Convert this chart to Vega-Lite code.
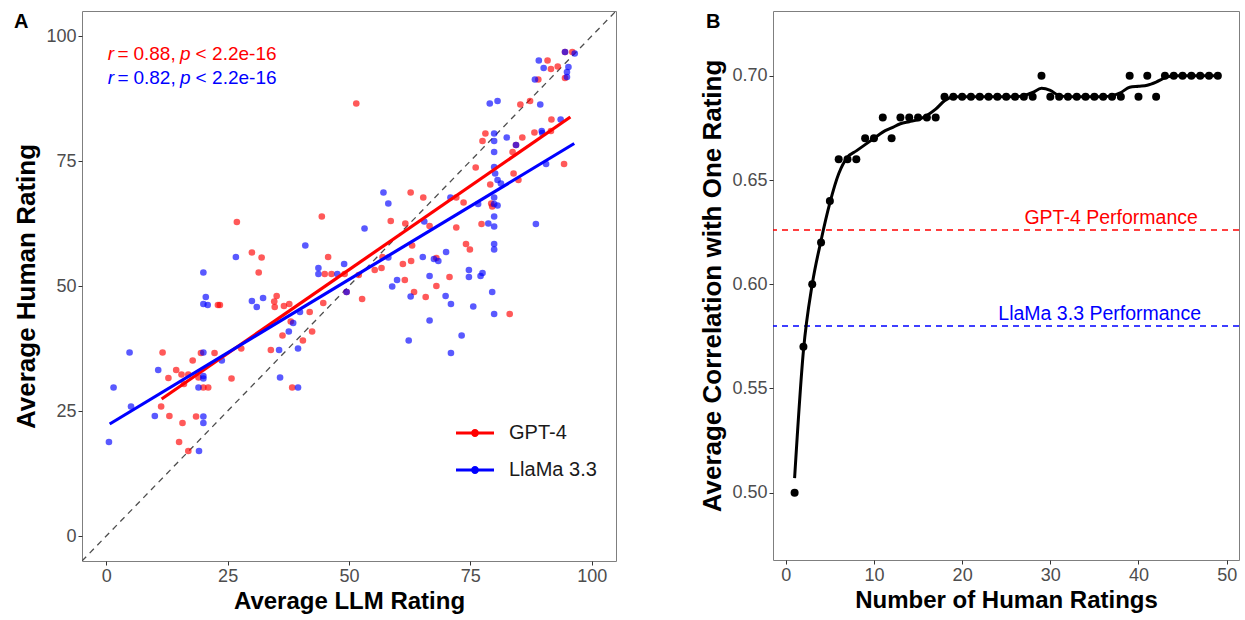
{
  "$schema": "https://vega.github.io/schema/vega-lite/v6.json",
  "background": "white",
  "padding": {"left": 13, "top": 10, "right": 0, "bottom": 0},
  "config": {
    "font": "Liberation Sans",
    "view": {"stroke": "#7f7f7f", "strokeWidth": 1},
    "axis": {"grid": false, "domain": false, "tickColor": "#333333", "tickSize": 4, "labelColor": "#4d4d4d", "labelFontSize": 18, "labelPadding": 2, "titleFontWeight": "bold", "titleColor": "#000000"},
    "title": {"fontSize": 20, "fontWeight": "bold", "color": "#000000", "anchor": "start", "frame": "bounds", "baseline": "top", "offset": -2}
  },
  "spacing": 82,
  "resolve": {"scale": {"color": "independent"}, "legend": {"color": "independent"}},
  "hconcat": [
    {
      "width": 534,
      "height": 550,
      "title": {"text": "A", "dy": 19},
      "layer": [
        {
          "data": {"values": [{"x": -5, "y": -5}, {"x": 105, "y": 105}]},
          "mark": {"type": "line", "color": "#4d4d4d", "strokeWidth": 1.3, "strokeDash": [6, 5], "clip": true},
          "encoding": {
            "x": {"field": "x", "type": "quantitative", "scale": {"domain": [-5, 105], "nice": false, "zero": false},
                  "axis": {"values": [0, 25, 50, 75, 100], "title": "Average LLM Rating", "titleFontSize": 24, "titlePadding": 4}},
            "y": {"field": "y", "type": "quantitative", "scale": {"domain": [-5, 105], "nice": false, "zero": false},
                  "axis": {"values": [0, 25, 50, 75, 100], "title": "Average Human Rating", "titleFontSize": 26, "titlePadding": 6}}
          }
        },
        {
          "data": {"values": [
            {"m": "GPT-4", "x": 26.9, "y": 62.8}, {"m": "GPT-4", "x": 44.4, "y": 63.9}, {"m": "GPT-4", "x": 30.0, "y": 56.7}, {"m": "GPT-4", "x": 32.0, "y": 55.7},
            {"m": "GPT-4", "x": 45.7, "y": 55.8}, {"m": "GPT-4", "x": 31.4, "y": 52.7}, {"m": "GPT-4", "x": 45.0, "y": 52.4}, {"m": "GPT-4", "x": 46.4, "y": 52.4},
            {"m": "GPT-4", "x": 49.1, "y": 52.4}, {"m": "GPT-4", "x": 23.0, "y": 46.2}, {"m": "GPT-4", "x": 23.4, "y": 46.2}, {"m": "GPT-4", "x": 35.1, "y": 48.0},
            {"m": "GPT-4", "x": 34.6, "y": 46.9}, {"m": "GPT-4", "x": 34.7, "y": 45.8}, {"m": "GPT-4", "x": 36.6, "y": 46.0}, {"m": "GPT-4", "x": 37.7, "y": 46.4},
            {"m": "GPT-4", "x": 38.0, "y": 42.9}, {"m": "GPT-4", "x": 41.9, "y": 44.8}, {"m": "GPT-4", "x": 36.3, "y": 40.1}, {"m": "GPT-4", "x": 42.4, "y": 40.9},
            {"m": "GPT-4", "x": 40.5, "y": 39.1}, {"m": "GPT-4", "x": 33.9, "y": 37.2}, {"m": "GPT-4", "x": 27.8, "y": 37.5}, {"m": "GPT-4", "x": 22.3, "y": 36.6},
            {"m": "GPT-4", "x": 19.5, "y": 36.6}, {"m": "GPT-4", "x": 11.6, "y": 36.7}, {"m": "GPT-4", "x": 17.8, "y": 35.1}, {"m": "GPT-4", "x": 14.4, "y": 33.2},
            {"m": "GPT-4", "x": 15.5, "y": 32.3}, {"m": "GPT-4", "x": 12.8, "y": 31.6}, {"m": "GPT-4", "x": 16.0, "y": 30.4}, {"m": "GPT-4", "x": 20.0, "y": 29.7},
            {"m": "GPT-4", "x": 21.0, "y": 29.7}, {"m": "GPT-4", "x": 25.8, "y": 31.5}, {"m": "GPT-4", "x": 38.3, "y": 29.7}, {"m": "GPT-4", "x": 11.3, "y": 25.9},
            {"m": "GPT-4", "x": 13.0, "y": 24.0}, {"m": "GPT-4", "x": 18.5, "y": 23.9}, {"m": "GPT-4", "x": 15.7, "y": 22.6}, {"m": "GPT-4", "x": 15.0, "y": 18.8},
            {"m": "GPT-4", "x": 16.9, "y": 17.0}, {"m": "GPT-4", "x": 44.7, "y": 46.6}, {"m": "GPT-4", "x": 49.5, "y": 48.8}, {"m": "GPT-4", "x": 52.7, "y": 47.4},
            {"m": "GPT-4", "x": 61.5, "y": 51.2}, {"m": "GPT-4", "x": 63.4, "y": 48.8}, {"m": "GPT-4", "x": 65.8, "y": 47.8}, {"m": "GPT-4", "x": 68.0, "y": 50.0},
            {"m": "GPT-4", "x": 70.7, "y": 51.8}, {"m": "GPT-4", "x": 83.1, "y": 44.4}, {"m": "GPT-4", "x": 51.5, "y": 86.5}, {"m": "GPT-4", "x": 85.3, "y": 86.3},
            {"m": "GPT-4", "x": 87.3, "y": 87.0}, {"m": "GPT-4", "x": 90.9, "y": 95.1}, {"m": "GPT-4", "x": 91.6, "y": 93.4}, {"m": "GPT-4", "x": 93.0, "y": 93.9},
            {"m": "GPT-4", "x": 89.0, "y": 91.3}, {"m": "GPT-4", "x": 94.5, "y": 96.8}, {"m": "GPT-4", "x": 96.0, "y": 96.8}, {"m": "GPT-4", "x": 94.5, "y": 91.6},
            {"m": "GPT-4", "x": 91.7, "y": 83.3}, {"m": "GPT-4", "x": 88.2, "y": 80.7}, {"m": "GPT-4", "x": 91.6, "y": 81.0}, {"m": "GPT-4", "x": 85.7, "y": 79.7},
            {"m": "GPT-4", "x": 83.7, "y": 76.8}, {"m": "GPT-4", "x": 84.4, "y": 78.2}, {"m": "GPT-4", "x": 78.1, "y": 80.5}, {"m": "GPT-4", "x": 77.5, "y": 79.0},
            {"m": "GPT-4", "x": 76.1, "y": 73.7}, {"m": "GPT-4", "x": 79.1, "y": 70.3}, {"m": "GPT-4", "x": 83.9, "y": 72.5}, {"m": "GPT-4", "x": 84.9, "y": 71.2},
            {"m": "GPT-4", "x": 94.3, "y": 74.4}, {"m": "GPT-4", "x": 79.3, "y": 66.5}, {"m": "GPT-4", "x": 79.5, "y": 65.9}, {"m": "GPT-4", "x": 77.3, "y": 62.4},
            {"m": "GPT-4", "x": 72.1, "y": 61.7}, {"m": "GPT-4", "x": 72.1, "y": 67.7}, {"m": "GPT-4", "x": 73.6, "y": 66.7}, {"m": "GPT-4", "x": 65.3, "y": 67.7},
            {"m": "GPT-4", "x": 62.7, "y": 68.7}, {"m": "GPT-4", "x": 58.6, "y": 63.0}, {"m": "GPT-4", "x": 61.6, "y": 62.5}, {"m": "GPT-4", "x": 66.6, "y": 62.0},
            {"m": "GPT-4", "x": 63.0, "y": 58.1}, {"m": "GPT-4", "x": 74.1, "y": 58.4}, {"m": "GPT-4", "x": 74.9, "y": 57.3}, {"m": "GPT-4", "x": 68.0, "y": 55.6},
            {"m": "GPT-4", "x": 62.8, "y": 55.0}, {"m": "GPT-4", "x": 61.1, "y": 54.4}, {"m": "GPT-4", "x": 56.9, "y": 55.8}, {"m": "GPT-4", "x": 55.3, "y": 53.2},
            {"m": "GPT-4", "x": 56.7, "y": 53.6}, {"m": "GPT-4", "x": 52.0, "y": 52.2}, {"m": "GPT-4", "x": 19.0, "y": 31.7}, {"m": "GPT-4", "x": 16.9, "y": 32.3},
            {"m": "LlaMa 3.3", "x": 41.0, "y": 58.1}, {"m": "LlaMa 3.3", "x": 26.7, "y": 55.8}, {"m": "LlaMa 3.3", "x": 49.0, "y": 54.4}, {"m": "LlaMa 3.3", "x": 20.0, "y": 52.7},
            {"m": "LlaMa 3.3", "x": 43.7, "y": 53.6}, {"m": "LlaMa 3.3", "x": 43.7, "y": 52.4}, {"m": "LlaMa 3.3", "x": 47.6, "y": 52.4}, {"m": "LlaMa 3.3", "x": 20.5, "y": 47.8},
            {"m": "LlaMa 3.3", "x": 20.0, "y": 46.4}, {"m": "LlaMa 3.3", "x": 20.9, "y": 46.2}, {"m": "LlaMa 3.3", "x": 30.0, "y": 47.0}, {"m": "LlaMa 3.3", "x": 32.3, "y": 47.6},
            {"m": "LlaMa 3.3", "x": 31.0, "y": 45.8}, {"m": "LlaMa 3.3", "x": 39.9, "y": 44.8}, {"m": "LlaMa 3.3", "x": 37.6, "y": 40.9}, {"m": "LlaMa 3.3", "x": 39.5, "y": 37.5},
            {"m": "LlaMa 3.3", "x": 35.6, "y": 37.2}, {"m": "LlaMa 3.3", "x": 23.8, "y": 35.1}, {"m": "LlaMa 3.3", "x": 20.0, "y": 36.7}, {"m": "LlaMa 3.3", "x": 4.8, "y": 36.7},
            {"m": "LlaMa 3.3", "x": 10.7, "y": 33.2}, {"m": "LlaMa 3.3", "x": 20.0, "y": 32.0}, {"m": "LlaMa 3.3", "x": 20.0, "y": 31.5}, {"m": "LlaMa 3.3", "x": 19.0, "y": 29.7},
            {"m": "LlaMa 3.3", "x": 35.8, "y": 31.7}, {"m": "LlaMa 3.3", "x": 39.5, "y": 29.7}, {"m": "LlaMa 3.3", "x": 1.5, "y": 29.7}, {"m": "LlaMa 3.3", "x": 5.1, "y": 25.9},
            {"m": "LlaMa 3.3", "x": 10.0, "y": 24.0}, {"m": "LlaMa 3.3", "x": 20.0, "y": 23.9}, {"m": "LlaMa 3.3", "x": 20.0, "y": 22.6}, {"m": "LlaMa 3.3", "x": 19.1, "y": 17.0},
            {"m": "LlaMa 3.3", "x": 0.55, "y": 18.8}, {"m": "LlaMa 3.3", "x": 49.5, "y": 48.8}, {"m": "LlaMa 3.3", "x": 38.5, "y": 42.6}, {"m": "LlaMa 3.3", "x": 58.9, "y": 49.9},
            {"m": "LlaMa 3.3", "x": 59.9, "y": 51.2}, {"m": "LlaMa 3.3", "x": 62.7, "y": 47.9}, {"m": "LlaMa 3.3", "x": 66.6, "y": 52.0}, {"m": "LlaMa 3.3", "x": 66.6, "y": 43.1},
            {"m": "LlaMa 3.3", "x": 69.9, "y": 48.0}, {"m": "LlaMa 3.3", "x": 71.0, "y": 46.4}, {"m": "LlaMa 3.3", "x": 74.7, "y": 51.8}, {"m": "LlaMa 3.3", "x": 77.1, "y": 52.0},
            {"m": "LlaMa 3.3", "x": 77.5, "y": 52.6}, {"m": "LlaMa 3.3", "x": 75.6, "y": 45.9}, {"m": "LlaMa 3.3", "x": 79.5, "y": 48.8}, {"m": "LlaMa 3.3", "x": 79.9, "y": 44.4},
            {"m": "LlaMa 3.3", "x": 73.2, "y": 40.1}, {"m": "LlaMa 3.3", "x": 62.3, "y": 39.1}, {"m": "LlaMa 3.3", "x": 71.0, "y": 36.6}, {"m": "LlaMa 3.3", "x": 79.0, "y": 86.5},
            {"m": "LlaMa 3.3", "x": 80.6, "y": 87.0}, {"m": "LlaMa 3.3", "x": 89.4, "y": 86.3}, {"m": "LlaMa 3.3", "x": 89.1, "y": 95.1}, {"m": "LlaMa 3.3", "x": 90.1, "y": 93.6},
            {"m": "LlaMa 3.3", "x": 88.3, "y": 91.3}, {"m": "LlaMa 3.3", "x": 94.5, "y": 96.8}, {"m": "LlaMa 3.3", "x": 96.5, "y": 96.5}, {"m": "LlaMa 3.3", "x": 95.2, "y": 93.8},
            {"m": "LlaMa 3.3", "x": 94.9, "y": 92.8}, {"m": "LlaMa 3.3", "x": 94.9, "y": 91.8}, {"m": "LlaMa 3.3", "x": 93.6, "y": 83.3}, {"m": "LlaMa 3.3", "x": 89.7, "y": 81.0},
            {"m": "LlaMa 3.3", "x": 89.8, "y": 80.6}, {"m": "LlaMa 3.3", "x": 84.4, "y": 78.2}, {"m": "LlaMa 3.3", "x": 82.5, "y": 79.7}, {"m": "LlaMa 3.3", "x": 79.9, "y": 80.5},
            {"m": "LlaMa 3.3", "x": 79.9, "y": 79.0}, {"m": "LlaMa 3.3", "x": 79.9, "y": 76.8}, {"m": "LlaMa 3.3", "x": 79.9, "y": 73.8}, {"m": "LlaMa 3.3", "x": 80.1, "y": 72.5},
            {"m": "LlaMa 3.3", "x": 80.6, "y": 71.2}, {"m": "LlaMa 3.3", "x": 81.3, "y": 70.5}, {"m": "LlaMa 3.3", "x": 90.6, "y": 74.4}, {"m": "LlaMa 3.3", "x": 79.9, "y": 67.7},
            {"m": "LlaMa 3.3", "x": 79.9, "y": 66.4}, {"m": "LlaMa 3.3", "x": 80.6, "y": 66.1}, {"m": "LlaMa 3.3", "x": 79.9, "y": 63.9}, {"m": "LlaMa 3.3", "x": 79.9, "y": 61.9},
            {"m": "LlaMa 3.3", "x": 78.7, "y": 62.5}, {"m": "LlaMa 3.3", "x": 88.5, "y": 62.4}, {"m": "LlaMa 3.3", "x": 76.6, "y": 66.4}, {"m": "LlaMa 3.3", "x": 70.9, "y": 67.7},
            {"m": "LlaMa 3.3", "x": 57.1, "y": 68.7}, {"m": "LlaMa 3.3", "x": 58.1, "y": 66.5}, {"m": "LlaMa 3.3", "x": 65.5, "y": 62.9}, {"m": "LlaMa 3.3", "x": 53.2, "y": 61.5},
            {"m": "LlaMa 3.3", "x": 79.9, "y": 58.4}, {"m": "LlaMa 3.3", "x": 79.9, "y": 57.3}, {"m": "LlaMa 3.3", "x": 70.0, "y": 56.8}, {"m": "LlaMa 3.3", "x": 65.2, "y": 55.8},
            {"m": "LlaMa 3.3", "x": 67.5, "y": 55.4}, {"m": "LlaMa 3.3", "x": 68.4, "y": 55.0}, {"m": "LlaMa 3.3", "x": 58.1, "y": 55.7}, {"m": "LlaMa 3.3", "x": 74.7, "y": 53.2}
          ]},
          "mark": {"type": "circle", "size": 44, "opacity": 0.65},
          "encoding": {
            "x": {"field": "x", "type": "quantitative"},
            "y": {"field": "y", "type": "quantitative"},
            "color": {"field": "m", "type": "nominal", "sort": null,
                      "scale": {"domain": ["GPT-4", "LlaMa 3.3"], "range": ["#ff0000", "#0000ff"]},
                      "legend": {"title": null, "orient": "none", "legendX": 374, "legendY": 403,
                                 "symbolType": "M -1 -0.08 L 1 -0.08 L 1 0.08 L -1 0.08 Z M 0.21 0 A 0.21 0.21 0 1 1 -0.21 0 A 0.21 0.21 0 1 1 0.21 0 Z",
                                 "symbolSize": 1444, "symbolOpacity": 1, "symbolStrokeWidth": 0,
                                 "labelFontSize": 20, "labelColor": "#1a1a1a", "labelOffset": 15, "rowPadding": 8, "padding": 0}}
          }
        },
        {
          "data": {"values": [
            {"m": "GPT-4", "x": 11.4, "y": 27.4}, {"m": "GPT-4", "x": 95.6, "y": 83.8},
            {"m": "LlaMa 3.3", "x": 0.7, "y": 22.4}, {"m": "LlaMa 3.3", "x": 96.4, "y": 78.5}
          ]},
          "mark": {"type": "line", "strokeWidth": 3.2},
          "encoding": {
            "x": {"field": "x", "type": "quantitative"},
            "y": {"field": "y", "type": "quantitative"},
            "color": {"field": "m", "type": "nominal", "legend": null}
          }
        },
        {
          "data": {"values": [
            {"m": "GPT-4", "x": 0.3, "y": 96.4, "t": "r"}, {"m": "GPT-4", "x": 15.2, "y": 96.4, "t": "p"},
            {"m": "LlaMa 3.3", "x": 0.3, "y": 91.6, "t": "r"}, {"m": "LlaMa 3.3", "x": 15.2, "y": 91.6, "t": "p"}
          ]},
          "mark": {"type": "text", "align": "left", "baseline": "middle", "fontSize": 19, "fontStyle": "italic"},
          "encoding": {
            "x": {"field": "x", "type": "quantitative"},
            "y": {"field": "y", "type": "quantitative"},
            "text": {"field": "t"},
            "color": {"field": "m", "type": "nominal", "legend": null}
          }
        },
        {
          "data": {"values": [
            {"m": "GPT-4", "x": 2.3, "y": 96.4, "t": "="}, {"m": "GPT-4", "x": 5.6, "y": 96.4, "t": "0.88,"},
            {"m": "GPT-4", "x": 18.4, "y": 96.4, "t": "<"}, {"m": "GPT-4", "x": 21.8, "y": 96.4, "t": "2.2e-16"},
            {"m": "LlaMa 3.3", "x": 2.3, "y": 91.6, "t": "="}, {"m": "LlaMa 3.3", "x": 5.6, "y": 91.6, "t": "0.82,"},
            {"m": "LlaMa 3.3", "x": 18.4, "y": 91.6, "t": "<"}, {"m": "LlaMa 3.3", "x": 21.8, "y": 91.6, "t": "2.2e-16"}
          ]},
          "mark": {"type": "text", "align": "left", "baseline": "middle", "fontSize": 19},
          "encoding": {
            "x": {"field": "x", "type": "quantitative"},
            "y": {"field": "y", "type": "quantitative"},
            "text": {"field": "t"},
            "color": {"field": "m", "type": "nominal", "legend": null}
          }
        }
      ]
    },
    {
      "width": 466,
      "height": 549,
      "title": {"text": "B", "dx": 6, "dy": 19},
      "layer": [
        {
          "data": {"values": [{"m": "GPT-4", "v": 0.626}, {"m": "LlaMa 3.3", "v": 0.58}]},
          "mark": {"type": "rule", "strokeWidth": 1.5, "strokeDash": [6, 5]},
          "encoding": {
            "y": {"field": "v", "type": "quantitative", "scale": {"domain": [0.4677, 0.7311], "nice": false, "zero": false},
                  "axis": {"values": [0.5, 0.55, 0.6, 0.65, 0.7], "format": ".2f", "title": "Average Correlation with One Rating", "titleFontSize": 26, "titlePadding": 6}},
            "color": {"field": "m", "type": "nominal", "scale": {"domain": ["GPT-4", "LlaMa 3.3"], "range": ["#ff0000", "#0000ff"]}, "legend": null}
          }
        },
        {
          "data": {"values": [
            {"m": "GPT-4", "n": 36.9, "v": 0.6318, "t": "GPT-4 Performance"},
            {"m": "LlaMa 3.3", "n": 35.6, "v": 0.5857, "t": "LlaMa 3.3 Performance"}
          ]},
          "mark": {"type": "text", "fontSize": 19.5, "baseline": "middle", "align": "center"},
          "encoding": {
            "x": {"field": "n", "type": "quantitative"},
            "y": {"field": "v", "type": "quantitative"},
            "text": {"field": "t"},
            "color": {"field": "m", "type": "nominal", "legend": null}
          }
        },
        {
          "data": {"values": [
            {"n": 1, "s": 0.507}, {"n": 2, "s": 0.568}, {"n": 3, "s": 0.600}, {"n": 4, "s": 0.621}, {"n": 5, "s": 0.639},
            {"n": 6, "s": 0.653}, {"n": 7, "s": 0.661}, {"n": 8, "s": 0.664}, {"n": 9, "s": 0.667}, {"n": 10, "s": 0.670},
            {"n": 11, "s": 0.673}, {"n": 12, "s": 0.675}, {"n": 13, "s": 0.677}, {"n": 14, "s": 0.678}, {"n": 15, "s": 0.679},
            {"n": 16, "s": 0.681}, {"n": 17, "s": 0.684}, {"n": 18, "s": 0.688}, {"n": 19, "s": 0.690}, {"n": 20, "s": 0.690},
            {"n": 21, "s": 0.690}, {"n": 22, "s": 0.690}, {"n": 23, "s": 0.690}, {"n": 24, "s": 0.690}, {"n": 25, "s": 0.690},
            {"n": 26, "s": 0.690}, {"n": 27, "s": 0.6905}, {"n": 28, "s": 0.692}, {"n": 29, "s": 0.694}, {"n": 30, "s": 0.693},
            {"n": 31, "s": 0.6905}, {"n": 32, "s": 0.690}, {"n": 33, "s": 0.690}, {"n": 34, "s": 0.690}, {"n": 35, "s": 0.690},
            {"n": 36, "s": 0.690}, {"n": 37, "s": 0.6905}, {"n": 38, "s": 0.692}, {"n": 39, "s": 0.6945}, {"n": 40, "s": 0.695},
            {"n": 41, "s": 0.6955}, {"n": 42, "s": 0.697}, {"n": 43, "s": 0.699}, {"n": 44, "s": 0.700}, {"n": 45, "s": 0.700},
            {"n": 46, "s": 0.700}, {"n": 47, "s": 0.700}, {"n": 48, "s": 0.700}, {"n": 49, "s": 0.700}
          ]},
          "mark": {"type": "line", "color": "#000000", "strokeWidth": 3, "interpolate": "monotone"},
          "encoding": {
            "x": {"field": "n", "type": "quantitative"},
            "y": {"field": "s", "type": "quantitative"}
          }
        },
        {
          "data": {"values": [
            {"n": 1, "r": 0.50}, {"n": 2, "r": 0.57}, {"n": 3, "r": 0.60}, {"n": 4, "r": 0.62}, {"n": 5, "r": 0.64},
            {"n": 6, "r": 0.66}, {"n": 7, "r": 0.66}, {"n": 8, "r": 0.66}, {"n": 9, "r": 0.67}, {"n": 10, "r": 0.67},
            {"n": 11, "r": 0.68}, {"n": 12, "r": 0.67}, {"n": 13, "r": 0.68}, {"n": 14, "r": 0.68}, {"n": 15, "r": 0.68},
            {"n": 16, "r": 0.68}, {"n": 17, "r": 0.68}, {"n": 18, "r": 0.69}, {"n": 19, "r": 0.69}, {"n": 20, "r": 0.69},
            {"n": 21, "r": 0.69}, {"n": 22, "r": 0.69}, {"n": 23, "r": 0.69}, {"n": 24, "r": 0.69}, {"n": 25, "r": 0.69},
            {"n": 26, "r": 0.69}, {"n": 27, "r": 0.69}, {"n": 28, "r": 0.69}, {"n": 29, "r": 0.70}, {"n": 30, "r": 0.69},
            {"n": 31, "r": 0.69}, {"n": 32, "r": 0.69}, {"n": 33, "r": 0.69}, {"n": 34, "r": 0.69}, {"n": 35, "r": 0.69},
            {"n": 36, "r": 0.69}, {"n": 37, "r": 0.69}, {"n": 38, "r": 0.69}, {"n": 39, "r": 0.70}, {"n": 40, "r": 0.69},
            {"n": 41, "r": 0.70}, {"n": 42, "r": 0.69}, {"n": 43, "r": 0.70}, {"n": 44, "r": 0.70}, {"n": 45, "r": 0.70},
            {"n": 46, "r": 0.70}, {"n": 47, "r": 0.70}, {"n": 48, "r": 0.70}, {"n": 49, "r": 0.70}
          ]},
          "mark": {"type": "circle", "color": "#000000", "size": 64, "opacity": 1},
          "encoding": {
            "x": {"field": "n", "type": "quantitative", "scale": {"domain": [-1.45, 51.4], "nice": false, "zero": false},
                  "axis": {"values": [0, 10, 20, 30, 40, 50], "title": "Number of Human Ratings", "titleFontSize": 24, "titlePadding": 4}},
            "y": {"field": "r", "type": "quantitative"}
          }
        }
      ]
    }
  ]
}
